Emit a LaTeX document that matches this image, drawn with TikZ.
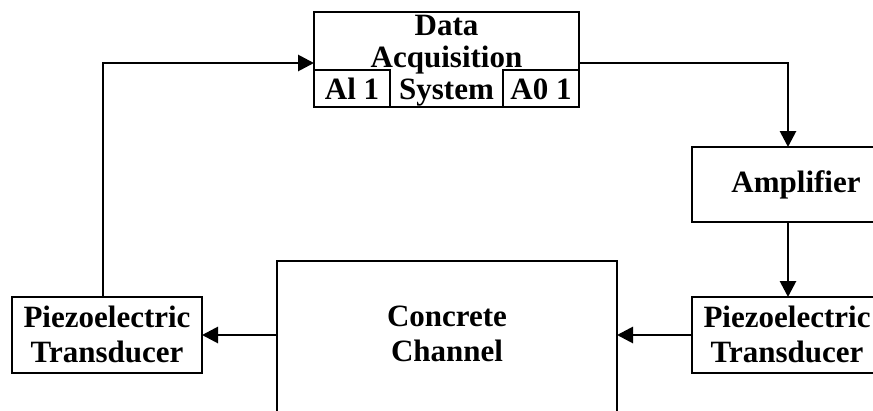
\documentclass[tikz,border=0pt]{standalone}
\usepackage{fontspec}
\setmainfont{Liberation Serif}
\usetikzlibrary{arrows.meta}
\tikzset{
  blk/.style={draw=black, line width=2.8pt, rectangle, inner sep=0pt, outer sep=0pt, fill=white},
  txt/.style={align=center, inner sep=0pt, font=\fontsize{31}{35}\selectfont\bfseries},
  conn/.style={line width=2.8pt, -{Triangle[length=16pt,width=16pt]}},
  plain/.style={line width=2.8pt}
}
\begin{document}
\begin{tikzpicture}[x=1pt,y=-1pt]
\useasboundingbox (0,0) rectangle (873,410);
\clip (0,0) rectangle (873,410);
\fill[white] (0,0) rectangle (873,410);
% boxes
\node[blk, minimum width=265pt, minimum height=95pt] (daq) at (446.5,59.5) {};
\node[blk, minimum width=76pt, minimum height=37pt] (ai) at (352,88.5) {};
\node[blk, minimum width=76pt, minimum height=37pt] (ao) at (541,88.5) {};
\node[txt, font=\fontsize{31}{32}\selectfont\bfseries] (daqtext) at (446.5,61) {Data\\Acquisition\\System};
\node[txt] (aitext) at (352,89) {Al 1};
\node[txt] (aotext) at (541,89) {A0 1};
\node[blk, minimum width=208pt, minimum height=75pt] (amp) at (796,184.5) {};
\node[txt] (amptext) at (796,184.5) {Amplifier};
\node[blk, minimum width=192pt, minimum height=76pt] (rpt) at (788,335) {};
\node[txt] (rpttext) at (787,334) {Piezoelectric\\Transducer};
\node[blk, minimum width=340pt, minimum height=189pt] (conc) at (447,355.5) {};
\node[txt] (conctext) at (447,334) {Concrete\\Channel};
\node[blk, minimum width=190pt, minimum height=76pt] (lpt) at (107,335) {};
\node[txt] (lpttext) at (107,334) {Piezoelectric\\Transducer};
% connectors
\coordinate (c1) at (103,63);
\coordinate (c2) at (788,63);
\draw[conn] (lpt.north -| c1) -- (c1) -- (c1 -| daq.west);
\draw[conn] (c2 -| daq.east) -- (c2) -- (c2 |- amp.north);
\draw[conn] (c2 |- amp.south) -- (c2 |- rpt.north);
\draw[conn] (rpt.west) -- (conc.east |- rpt.west);
\draw[conn] (conc.west |- lpt.east) -- (lpt.east);
\end{tikzpicture}
\end{document}
